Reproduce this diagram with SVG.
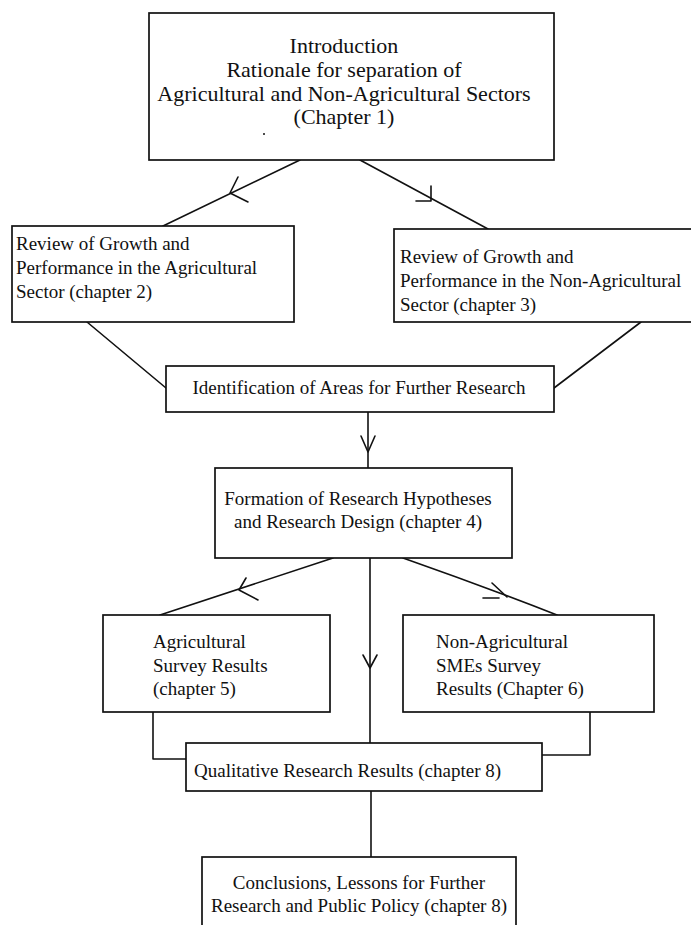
<svg xmlns="http://www.w3.org/2000/svg" width="691" height="925" viewBox="0 0 691 925">
  <style>
    .box { fill: #ffffff; stroke: #111111; stroke-width: 1.7; }
    .ln { fill: none; stroke: #111111; stroke-width: 1.6; stroke-linecap: round; stroke-linejoin: round; }
    text { font-family: "Liberation Serif", "Times New Roman", serif; fill: #111111; }
    .big { font-size: 22px; text-anchor: middle; }
    .mid { font-size: 19px; text-anchor: middle; }
    .lft { font-size: 19px; }
  </style>
  <rect width="691" height="925" fill="#ffffff"/>

  <!-- connectors -->
  <g id="connectors">
    <!-- introduction to the two sector reviews -->
    <path class="ln" d="M300 160 L163 226"/>
    <path class="ln" d="M238 177 L230 193 L248 202"/>
    <path class="ln" d="M360 160 L488 229"/>
    <path class="ln" d="M431 186 L431 201 L416 201"/>
    <!-- sector reviews to research areas -->
    <path class="ln" d="M87 322 L166 388"/>
    <path class="ln" d="M641 322 L554 388"/>
    <!-- research areas to hypotheses -->
    <path class="ln" d="M368 412 L368 468"/>
    <path class="ln" d="M361 436 L368 452 L375 436"/>
    <!-- hypotheses to surveys -->
    <path class="ln" d="M333 558 L160 615"/>
    <path class="ln" d="M246 578 L239 590 L258 600"/>
    <path class="ln" d="M403 558 Q480 585 557 615"/>
    <path class="ln" d="M492 583 L507 597"/>
    <path class="ln" d="M483 598 L499 598"/>
    <!-- hypotheses straight down to qualitative results -->
    <path class="ln" d="M370 558 L370 743"/>
    <path class="ln" d="M363 655 L370 668 L377 655"/>
    <!-- survey results into qualitative results -->
    <path class="ln" d="M153 712 L153 759 L186 759"/>
    <path class="ln" d="M590 712 L590 755 L542 755"/>
    <!-- qualitative results to conclusions -->
    <path class="ln" d="M371 791 L371 857"/>
  </g>

  <g id="introduction">
    <rect class="box" x="149" y="13" width="405" height="147"/>
    <text class="big" x="344" y="53">Introduction</text>
    <text class="big" x="344" y="77">Rationale for separation of</text>
    <text class="big" x="344" y="101">Agricultural and Non-Agricultural Sectors</text>
    <text class="big" x="344" y="124">(Chapter 1)</text>
    <circle cx="264" cy="134" r="1" fill="#111111"/>
  </g>

  <g id="review-agri">
    <rect class="box" x="12" y="226" width="282" height="96"/>
    <text class="lft" x="16" y="250">Review of Growth and</text>
    <text class="lft" x="16" y="274">Performance in the Agricultural</text>
    <text class="lft" x="16" y="298">Sector (chapter 2)</text>
  </g>

  <g id="review-nonagri">
    <rect class="box" x="394" y="229" width="310" height="93"/>
    <text class="lft" x="400" y="263">Review of Growth and</text>
    <text class="lft" x="400" y="287">Performance in the Non-Agricultural</text>
    <text class="lft" x="400" y="311">Sector (chapter 3)</text>
  </g>

  <g id="research-areas">
    <rect class="box" x="166" y="366" width="388" height="46"/>
    <text class="mid" x="359" y="394">Identification of Areas for Further Research</text>
  </g>

  <g id="hypotheses">
    <rect class="box" x="215" y="468" width="297" height="90"/>
    <text class="mid" x="358" y="505">Formation of Research Hypotheses</text>
    <text class="mid" x="358" y="528">and Research Design (chapter 4)</text>
  </g>

  <g id="survey-agri">
    <rect class="box" x="103" y="615" width="227" height="97"/>
    <text class="lft" x="153" y="648">Agricultural</text>
    <text class="lft" x="153" y="672">Survey Results</text>
    <text class="lft" x="153" y="695">(chapter 5)</text>
  </g>

  <g id="survey-nonagri">
    <rect class="box" x="403" y="615" width="251" height="97"/>
    <text class="lft" x="436" y="648">Non-Agricultural</text>
    <text class="lft" x="436" y="672">SMEs Survey</text>
    <text class="lft" x="436" y="695">Results (Chapter 6)</text>
  </g>

  <g id="qualitative">
    <rect class="box" x="186" y="743" width="356" height="48"/>
    <text class="lft" x="194" y="777">Qualitative Research Results (chapter 8)</text>
  </g>

  <g id="conclusions">
    <rect class="box" x="202" y="857" width="314" height="90"/>
    <text class="mid" x="359" y="889">Conclusions, Lessons for Further</text>
    <text class="mid" x="359" y="912">Research and Public Policy (chapter 8)</text>
  </g>
</svg>
